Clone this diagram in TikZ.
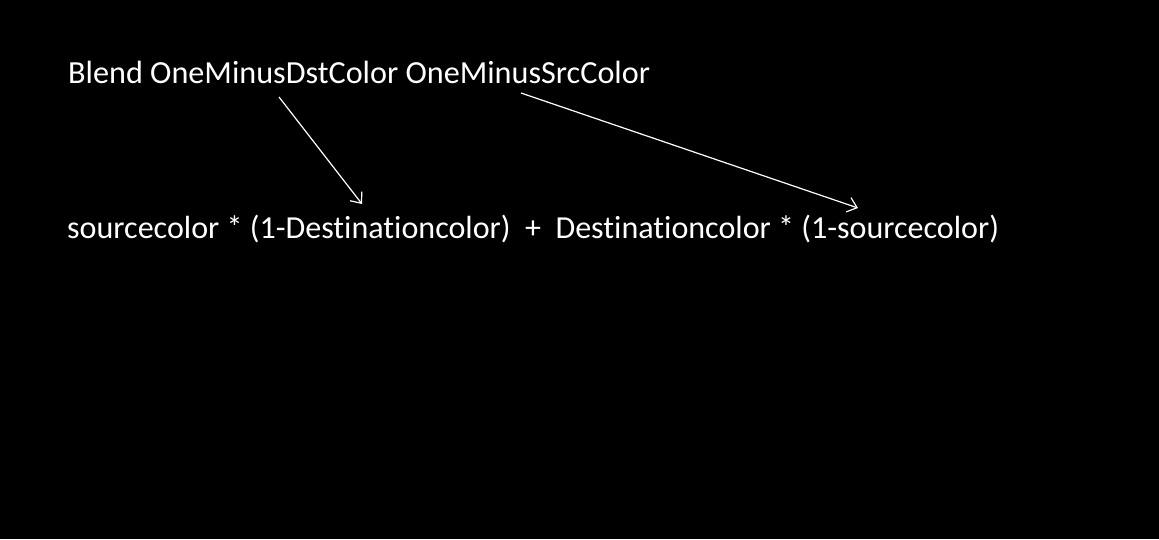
\documentclass[tikz,border=0pt]{standalone}
\usepackage{fontspec}
\setmainfont[RawFeature={-liga;-clig;-calt;-dlig}]{Carlito}
\usetikzlibrary{arrows.meta}
\begin{document}
\begin{tikzpicture}[x=1pt,y=-1pt,
  lbl/.style={text=white,anchor=base west,inner sep=0pt,font=\fontsize{32}{36}\selectfont},
  arr/.style={draw=white,line width=1.2pt,-{Straight Barb[length=9pt,width=15pt,line width=1.2pt]}}]
\fill[black] (0,0) rectangle (1159,539);
\useasboundingbox (0,0) rectangle (1159,539);
\node[lbl] (t1) at (68,83) {\resizebox{582pt}{!}{Blend OneMinusDstColor OneMinusSrcColor}};
\node[lbl] (t2) at (67,238) {\resizebox{932pt}{!}{sourcecolor * (1-Destinat\kern0pt ioncolor)\ \ +\ \ Destinat\kern0pt ioncolor * (1-sourcecolor)}};
\coordinate (a1s) at (279,97);
\coordinate (a1e) at (362,204);
\coordinate (a2s) at (521,93);
\coordinate (a2e) at (858,208);
\draw[arr] (a1s) -- (a1e);
\draw[arr] (a2s) -- (a2e);
\end{tikzpicture}
\end{document}
